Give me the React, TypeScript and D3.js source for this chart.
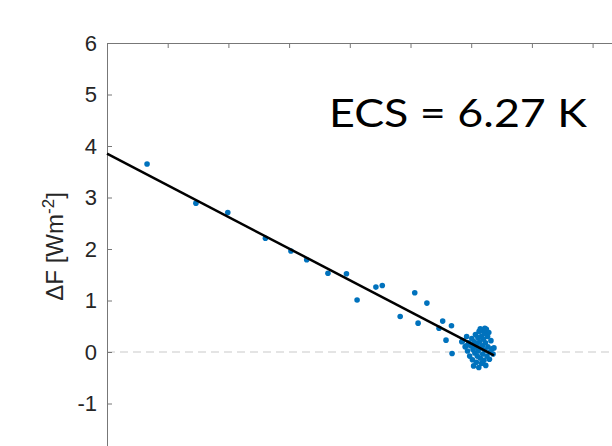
import React, { useEffect, useRef } from "react";
import * as d3 from "d3";

// Gregory plot: temperature change vs. TOA imbalance
const deltaT = [
  1.32, 2.93, 3.98, 5.22, 6.06, 6.58, 7.28, 7.89, 8.24, 8.86, 9.07, 9.66, 10.14, 10.25,
  10.54, 10.94, 11.06, 11.35, 11.17, 11.37, 11.69, 11.83,
  11.72, 11.80, 11.85, 11.88, 11.92, 11.95, 11.98, 12.02, 12.04, 12.06, 12.08, 12.10,
  12.12, 12.14, 12.15, 12.17, 12.19, 12.20, 12.22, 12.23, 12.25, 12.26, 12.28, 12.30,
  12.31, 12.33, 12.34, 12.36, 12.37, 12.38, 12.40, 12.42, 12.43, 12.45, 12.47, 12.48,
  12.50, 12.52, 12.54, 12.55, 12.58, 12.60, 12.62, 12.65, 12.68, 12.72, 12.75, 12.45, 12.30,
];
const deltaF = [
  3.65, 2.89, 2.71, 2.21, 1.96, 1.79, 1.53, 1.52, 1.01, 1.26, 1.29, 0.69, 1.15, 0.56,
  0.95, 0.46, 0.60, 0.51, 0.23, -0.03, 0.20, 0.12,
  0.22, 0.10, 0.30, 0.02, 0.18, -0.08, 0.12, 0.26, -0.15, 0.05, -0.27, 0.20,
  -0.02, 0.34, 0.10, -0.20, 0.15, -0.08, 0.28, 0.02, -0.30, 0.40, 0.20, -0.12,
  0.08, 0.30, -0.22, 0.42, 0.12, -0.04, 0.25, -0.16, 0.36, 0.04, 0.18, -0.26,
  0.44, -0.08, 0.30, 0.10, 0.38, -0.14, 0.00, 0.22, 0.06, -0.04, 0.08, 0.46, 0.45,
];

// fitted line (intercept, slope) and the resulting ECS
const fitIntercept = 3.85;
const fitSlope = -0.307;
const fitRange = [0, 12.75];
const ecsText = "ECS = 6.27 K";

const yTicks = [-1, 0, 1, 2, 3, 4, 5, 6];
const xTicks = [0, 2, 4, 6, 8, 10, 12, 14, 16];

const W = 612;
const H = 446;

const App = () => {
  const ref = useRef<SVGSVGElement>(null);

  useEffect(() => {
    const svg = d3.select(ref.current);
    svg.selectAll("*").remove();

    const x = d3.scaleLinear().domain([0, 17]).range([107, 107 + 17 * 30.35]);
    const y = d3.scaleLinear().domain([-2, 6]).range([455, 43]);

    // zero line
    svg.append("line")
      .attr("x1", x(0)).attr("x2", W)
      .attr("y1", y(0)).attr("y2", y(0))
      .attr("stroke", "#dcdcdc")
      .attr("stroke-width", 1.5)
      .attr("stroke-dasharray", "8,5");

    // axes
    const gy = svg.append("g")
      .attr("transform", `translate(${x(0)},0)`)
      .call(d3.axisLeft(y).tickValues(yTicks).tickSize(-5).tickSizeOuter(0)
        .tickPadding(10).tickFormat((d) => String(d)));
    gy.select(".domain").attr("stroke", "#777");
    gy.selectAll(".tick line").attr("stroke", "#777");
    gy.selectAll(".tick text")
      .attr("fill", "#262626")
      .attr("font-size", 22)
      .attr("font-family", "'Liberation Sans', Arial, sans-serif");

    const gx = svg.append("g")
      .attr("transform", `translate(0,${y(6)})`)
      .call(d3.axisTop(x).tickValues(xTicks).tickSize(-5).tickSizeOuter(0)
        .tickFormat(() => ""));
    gx.select(".domain").attr("stroke", "#777");
    gx.selectAll(".tick line").attr("stroke", "#777");

    // y label
    const lab = svg.append("text")
      .attr("transform", `translate(63,${y(2.05)}) rotate(-90)`)
      .attr("text-anchor", "middle")
      .attr("fill", "#262626")
      .attr("font-size", 24)
      .attr("font-family", "'Liberation Sans', Arial, sans-serif");
    lab.append("tspan").text("\u0394F [Wm");
    lab.append("tspan").attr("dy", -9).attr("font-size", 17).text("-2");
    lab.append("tspan").attr("dy", 9).text("]");

    // points
    svg.append("g")
      .selectAll("circle")
      .data(d3.range(deltaT.length))
      .join("circle")
      .attr("cx", (i) => x(deltaT[i]))
      .attr("cy", (i) => y(deltaF[i]))
      .attr("r", 2.8)
      .attr("fill", "#0072BD");

    // regression line
    svg.append("line")
      .attr("x1", x(fitRange[0])).attr("y1", y(fitIntercept + fitSlope * fitRange[0]))
      .attr("x2", x(fitRange[1])).attr("y2", y(fitIntercept + fitSlope * fitRange[1]))
      .attr("stroke", "#000")
      .attr("stroke-width", 2.5);

    svg.append("text")
      .attr("x", 329).attr("y", 127)
      .attr("font-size", 39)
      .attr("font-family", "Lato, 'Open Sans', sans-serif")
      .attr("textLength", 258)
      .attr("lengthAdjust", "spacingAndGlyphs")
      .attr("fill", "#000")
      .text(ecsText);
  }, []);

  return (
    <div>
      <svg ref={ref} width={W} height={H}
        style={{ position: "absolute", left: 0, top: 0, background: "#fff" }} />
    </div>
  );
};

export default App;
